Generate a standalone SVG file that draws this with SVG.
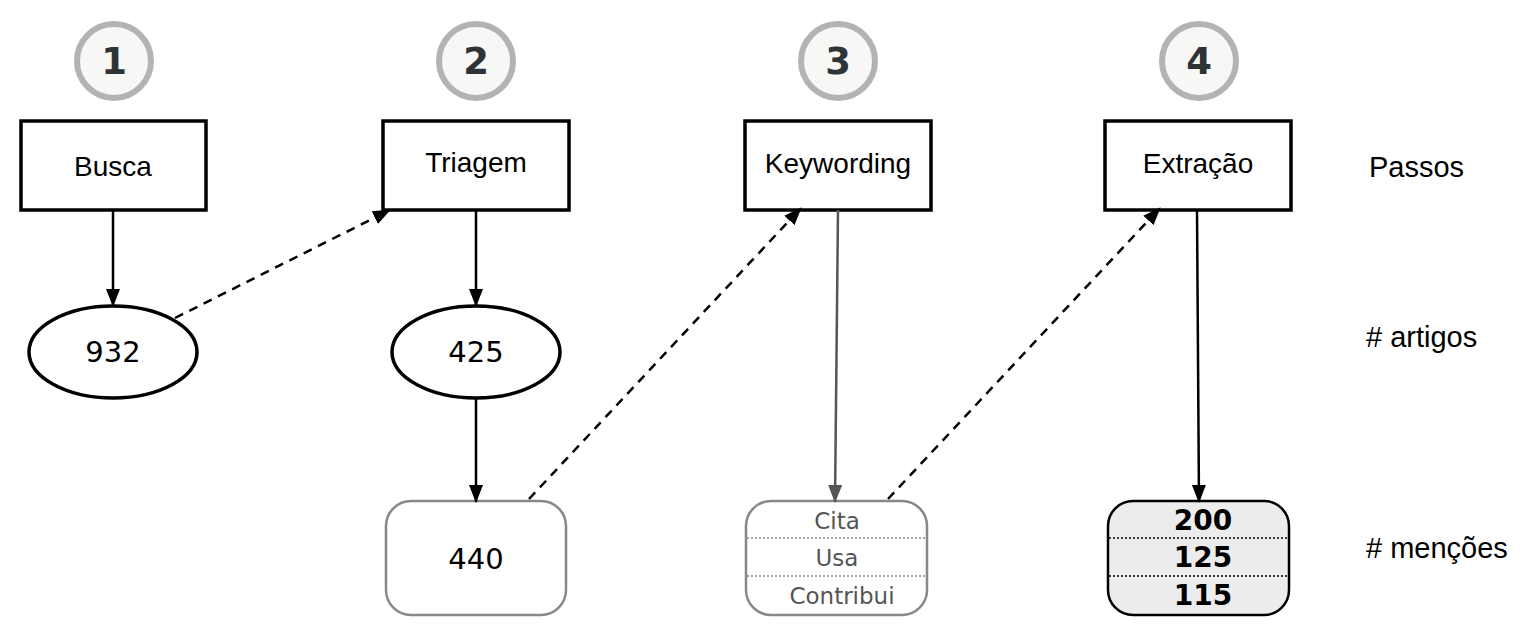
<svg xmlns="http://www.w3.org/2000/svg" width="1528" height="637" viewBox="0 0 1528 637">
<style>
.step{fill:#f7f7f5;stroke:#b3b3b3;stroke-width:6}
.stept{font-family:"DejaVu Sans",sans-serif;font-weight:bold;font-size:37px;fill:#2e3436;text-anchor:middle}
.box{fill:#fff;stroke:#000;stroke-width:3.5}
.boxt{font-family:"Liberation Sans",Arial,sans-serif;font-size:28px;fill:#000;text-anchor:middle}
.ell{fill:#fff;stroke:#000;stroke-width:3.5}
.num{font-family:"DejaVu Sans",sans-serif;font-size:29px;fill:#000;text-anchor:middle}
.sub{font-family:"DejaVu Sans",sans-serif;font-size:23px;fill:#555;text-anchor:middle}
.bnum{font-family:"DejaVu Sans",sans-serif;font-size:28px;font-weight:bold;fill:#000;text-anchor:middle}
.rgray{fill:#fff;stroke:#888;stroke-width:2.5}
.rblack{fill:#ececec;stroke:#000;stroke-width:2.5}
.sep{stroke-width:1.5;stroke-dasharray:2 2}
.lab{font-family:"Liberation Sans",Arial,sans-serif;font-size:29px;fill:#000}
.e{fill:none;stroke:#000;stroke-width:2.5}
.d{fill:none;stroke:#000;stroke-width:2.5;stroke-dasharray:9 7}
</style>
<defs>
<marker id="ahl" markerWidth="18" markerHeight="14" refX="17" refY="7" orient="auto" markerUnits="userSpaceOnUse" viewBox="0 0 18 14">
<path d="M0,0 L18,7 L0,14 z" fill="#000"/>
</marker>
<marker id="ahg" markerWidth="18" markerHeight="14" refX="17" refY="7" orient="auto" markerUnits="userSpaceOnUse" viewBox="0 0 18 14">
<path d="M0,0 L18,7 L0,14 z" fill="#555"/>
</marker>
</defs>
<g id="step1"><circle class="step" cx="114" cy="61" r="37"/><text class="stept" x="114" y="74">1</text></g>
<g id="step2"><circle class="step" cx="476" cy="61" r="37"/><text class="stept" x="476" y="74">2</text></g>
<g id="step3"><circle class="step" cx="838" cy="61" r="37"/><text class="stept" x="838" y="74">3</text></g>
<g id="step4"><circle class="step" cx="1199" cy="61" r="37"/><text class="stept" x="1199" y="74">4</text></g>

<g id="busca"><rect class="box" x="21" y="121" width="185" height="89"/><text class="boxt" x="113" y="176">Busca</text></g>
<g id="triagem"><rect class="box" x="383" y="121" width="186" height="89"/><text class="boxt" x="476" y="172">Triagem</text></g>
<g id="keywording"><rect class="box" x="745" y="121" width="186" height="89"/><text class="boxt" x="838" y="173">Keywording</text></g>
<g id="extracao"><rect class="box" x="1105" y="121" width="186" height="89"/><text class="boxt" x="1198" y="173">Extração</text></g>

<g id="n932"><ellipse class="ell" cx="113" cy="352" rx="84" ry="46"/><text class="num" x="113" y="362">932</text></g>
<g id="n425"><ellipse class="ell" cx="476" cy="352" rx="84" ry="46"/><text class="num" x="476" y="362">425</text></g>

<g id="n440"><rect class="rgray" x="386" y="501" width="180" height="114" rx="25"/><text class="num" x="476" y="569">440</text></g>
<g id="tipos">
<rect class="rgray" x="746" y="501" width="181" height="114" rx="25"/>
<line class="sep" stroke="#888" x1="747" y1="538" x2="926" y2="538"/>
<line class="sep" stroke="#888" x1="747" y1="576" x2="926" y2="576"/>
<text class="sub" x="837" y="529">Cita</text>
<text class="sub" x="837" y="566">Usa</text>
<text class="sub" x="842" y="604">Contribui</text>
</g>
<g id="mencoes">
<rect class="rblack" x="1108" y="501" width="181" height="114" rx="25"/>
<line class="sep" stroke="#000" x1="1109" y1="538" x2="1288" y2="538"/>
<line class="sep" stroke="#000" x1="1109" y1="576" x2="1288" y2="576"/>
<text class="bnum" x="1203" y="530">200</text>
<text class="bnum" x="1203" y="567">125</text>
<text class="bnum" x="1203" y="605">115</text>
</g>

<g id="labels">
<text class="lab" x="1369" y="177">Passos</text>
<text class="lab" x="1366" y="347"># artigos</text>
<text class="lab" x="1366" y="558"># menções</text>
</g>

<g id="connectors">
<line class="e" x1="113" y1="210" x2="113" y2="306" marker-end="url(#ahl)"/>
<line class="d" x1="175" y1="318" x2="390" y2="210" marker-end="url(#ahl)"/>
<line class="e" x1="476" y1="210" x2="476" y2="306" marker-end="url(#ahl)"/>
<line class="e" x1="476" y1="398" x2="476" y2="502" marker-end="url(#ahl)"/>
<line class="d" x1="529" y1="499" x2="801" y2="208" marker-end="url(#ahl)"/>
<line fill="none" stroke="#555" stroke-width="2.5" x1="838" y1="210" x2="835" y2="502" marker-end="url(#ahg)"/>
<line class="d" x1="888" y1="499" x2="1160" y2="208" marker-end="url(#ahl)"/>
<line class="e" x1="1197" y1="210" x2="1199" y2="502" marker-end="url(#ahl)"/>
</g>
</svg>
